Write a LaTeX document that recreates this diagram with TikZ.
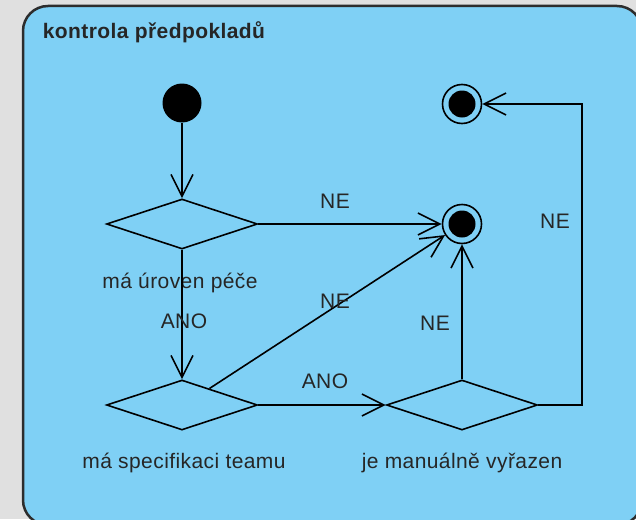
\documentclass[tikz,border=0pt]{standalone}
\usepackage{fontspec}
\setmainfont[LetterSpace=2]{Liberation Sans}
\usetikzlibrary{arrows.meta,shapes.geometric}
\definecolor{umlblue}{RGB}{127,208,245}
\definecolor{umlgray}{RGB}{224,224,224}
\definecolor{umledge}{RGB}{45,45,45}
\begin{document}
\begin{tikzpicture}[x=1pt,y=-1pt,line width=1.6pt,
        every node/.style={font=\fontsize{21}{25}\selectfont,text=black!85},
        start/.style={circle,fill=black,minimum size=39pt,inner sep=0pt},
        final/.style={circle,draw,minimum size=39pt,inner sep=0pt,
            path picture={\fill[black] (path picture bounding box.center) circle (13.5pt);}},
        decision/.style={diamond,draw,minimum width=151pt,minimum height=50pt,inner sep=0pt},
        flow/.style={-{Straight Barb[length=22pt,width=22pt]}},
        guard/.style={anchor=base}]
        \path[use as bounding box,fill=umlgray] (0,0) rectangle (636,519);
        \draw[umledge,line width=2.5pt,fill=umlblue,rounded corners=25pt] (23,6) rectangle (642,525);
        \node[anchor=base west,inner sep=0pt,font=\bfseries\fontsize{21}{25}\selectfont] (title) at (42,39) {kontrola předpokladů};
        \node[start] (init) at (182,103) {};
        \node[decision] (d1) at (182,224) {};
        \node[decision] (d2) at (182,405) {};
        \node[decision] (d3) at (462,405) {};
        \node[final] (f1) at (462,104) {};
        \node[final] (f2) at (462,224) {};
        \node[guard] (l1) at (180,288) {má úroven péče};
        \node[guard] (l2) at (184,468) {má specifikaci teamu};
        \node[guard] (l3) at (462,468) {je manuálně vyřazen};
        \coordinate (bend) at (582,104);
        \draw[flow] (init) -- (d1);
        \draw[flow] (d1) -- (d2);
        \draw[flow] (d1) -- (f2);
        \draw[flow] (d2.31) -- (f2);
        \draw[flow] (d2) -- (d3);
        \draw[flow] (d3) -- (f2);
        \draw[flow] (d3.east) -| (bend) -- (f1);
        \node[guard] (g1) at (335,208) {NE};
        \node[guard] (g2) at (184,328) {ANO};
        \node[guard] (g3) at (335,308) {NE};
        \node[guard] (g4) at (325,388) {ANO};
        \node[guard] (g5) at (435,330) {NE};
        \node[guard] (g6) at (555,228) {NE};
    \end{tikzpicture}
\end{document}
